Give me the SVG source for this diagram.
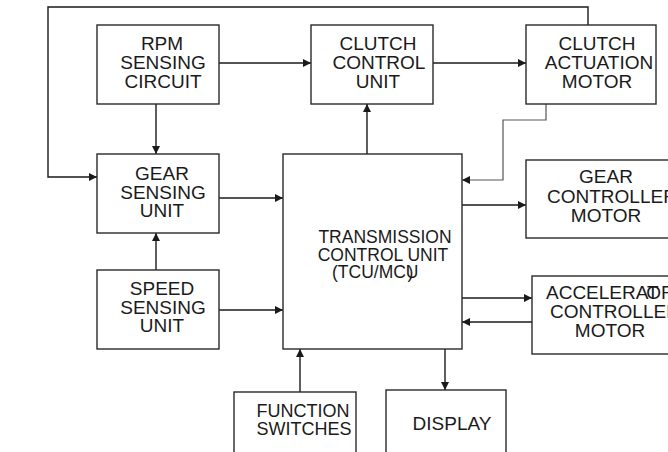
<svg xmlns="http://www.w3.org/2000/svg" width="668" height="452" viewBox="0 0 668 452">
<defs>
<marker id="ah" viewBox="0 0 10 10" refX="10" refY="5" markerWidth="8" markerHeight="8" markerUnits="userSpaceOnUse" orient="auto">
<path d="M0,0 L10,5 L0,10 z" fill="#1a1a1a"/>
</marker>
<style>
.box{fill:#fff;stroke:#2a2a2a;stroke-width:1.4}
.t{font-family:"Liberation Sans",Arial,sans-serif;font-size:19px;fill:#1a1a1a;text-anchor:middle}
.tc{font-size:17.5px}
.tf{font-size:18px}
.ts{text-anchor:start}
.c{fill:none;stroke:#1a1a1a;stroke-width:1.4;marker-end:url(#ah)}
.thin{stroke:#555;stroke-width:1.2}
</style>
</defs>
<rect width="668" height="452" fill="#fff"/>
<g id="connectors">
<polyline class="c" points="588,25 588,7 48,7 48,177 97,177"/>
<line class="c" x1="219" y1="63" x2="311" y2="63"/>
<line class="c" x1="156" y1="104" x2="156" y2="154"/>
<line class="c" x1="219" y1="198" x2="283" y2="198"/>
<line class="c" x1="156" y1="270" x2="156" y2="233"/>
<line class="c" x1="219" y1="310" x2="283" y2="310"/>
<line class="c" x1="367" y1="154" x2="367" y2="104"/>
<line class="c" x1="433" y1="63" x2="526" y2="63"/>
<polyline class="c thin" points="546,104 546,120 503,120 503,180 462,180"/>
<line class="c" x1="462" y1="205" x2="526" y2="205"/>
<line class="c" x1="462" y1="298" x2="532" y2="298"/>
<line class="c" x1="532" y1="322" x2="462" y2="322"/>
<line class="c" x1="300" y1="392" x2="300" y2="349"/>
<line class="c" x1="445" y1="349" x2="445" y2="390"/>
</g>
<g id="rpm">
<rect class="box" x="97" y="25" width="122" height="79"/>
<text class="t" x="162" y="50">RPM</text>
<text class="t" x="163" y="69">SENSING</text>
<text class="t" x="163" y="88">CIRCUIT</text>
</g>
<g id="gear-sensing">
<rect class="box" x="97" y="154" width="122" height="79"/>
<text class="t" x="162" y="180">GEAR</text>
<text class="t" x="163" y="199">SENSING</text>
<text class="t" x="162" y="217">UNIT</text>
</g>
<g id="speed-sensing">
<rect class="box" x="97" y="270" width="122" height="79"/>
<text class="t" x="162" y="295">SPEED</text>
<text class="t" x="163" y="314">SENSING</text>
<text class="t" x="162" y="332">UNIT</text>
</g>
<g id="clutch-control">
<rect class="box" x="311" y="25" width="122" height="79"/>
<text class="t" x="378" y="50">CLUTCH</text>
<text class="t" x="379" y="69">CONTROL</text>
<text class="t" x="378" y="88">UNIT</text>
</g>
<g id="clutch-actuation">
<rect class="box" x="526" y="25" width="130" height="79"/>
<text class="t" x="597" y="50">CLUTCH</text>
<text class="t" x="599" y="69">ACTUATION</text>
<text class="t" x="597" y="88">MOTOR</text>
</g>
<g id="tcu">
<rect class="box" x="283" y="154" width="179" height="195"/>
<text class="t tc" x="385" y="243">TRANSMISSION</text>
<text class="t tc" x="383" y="261">CONTROL UNIT</text>
<text class="t tc ts" x="332" y="278">(TCU/MCU<tspan dx="-11">)</tspan></text>
</g>
<g id="gear-controller">
<rect class="box" x="526" y="160" width="160" height="78"/>
<text class="t" x="606" y="183">GEAR</text>
<text class="t ts" x="547" y="203">CONTROLLER</text>
<text class="t" x="606" y="222">MOTOR</text>
</g>
<g id="accelerator">
<rect class="box" x="532" y="276" width="160" height="78"/>
<text class="t ts" x="546" y="299">ACCELERAT<tspan dx="-12">O</tspan>R</text>
<text class="t ts" x="550" y="318">CONTROLLER</text>
<text class="t" x="610" y="337">MOTOR</text>
</g>
<g id="function-switches">
<rect class="box" x="234" y="392" width="122" height="70"/>
<text class="t tf" x="303" y="417">FUNCTION</text>
<text class="t tf" x="304" y="435">SWITCHES</text>
</g>
<g id="display">
<rect class="box" x="386" y="390" width="120" height="72"/>
<text class="t" x="452" y="430">DISPLAY</text>
</g>
</svg>
